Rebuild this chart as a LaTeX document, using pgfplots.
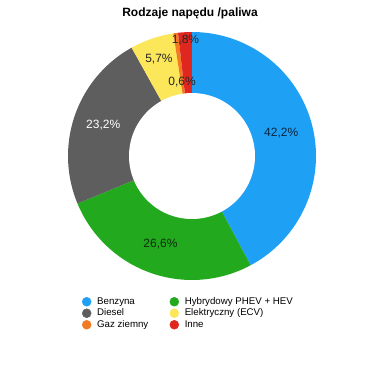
\documentclass[border=0pt]{standalone}
\usepackage{pgfplots}
\pgfplotsset{compat=1.18}
\usepackage{pgfplotstable}
\usepackage{fontspec}
\setmainfont{Liberation Sans}

\definecolor{cBlue}{HTML}{1EA0F5}
\definecolor{cGreen}{HTML}{23A91E}
\definecolor{cGrey}{HTML}{5E5E5E}
\definecolor{cYellow}{HTML}{FCE75A}
\definecolor{cOrange}{HTML}{F27B21}
\definecolor{cRed}{HTML}{E0271F}

\pgfplotstableread{
label value
Benzyna 42.2
Hybrydowy 26.6
Diesel 23.2
Elektryczny 5.7
Gaz 0.6
Inne 1.8
}\datatable

\pgfplotstablegetelem{0}{value}\of\datatable \let\vA\pgfplotsretval
\pgfplotstablegetelem{1}{value}\of\datatable \let\vB\pgfplotsretval
\pgfplotstablegetelem{2}{value}\of\datatable \let\vC\pgfplotsretval
\pgfplotstablegetelem{3}{value}\of\datatable \let\vD\pgfplotsretval
\pgfplotstablegetelem{4}{value}\of\datatable \let\vE\pgfplotsretval
\pgfplotstablegetelem{5}{value}\of\datatable \let\vF\pgfplotsretval
\pgfmathsetmacro{\tot}{\vA+\vB+\vC+\vD+\vE+\vF}
\pgfmathsetmacro{\aA}{0}
\pgfmathsetmacro{\aB}{\aA+\vA/\tot*360}
\pgfmathsetmacro{\aC}{\aB+\vB/\tot*360}
\pgfmathsetmacro{\aD}{\aC+\vC/\tot*360}
\pgfmathsetmacro{\aE}{\aD+\vD/\tot*360}
\pgfmathsetmacro{\aF}{\aE+\vE/\tot*360}
\pgfmathsetmacro{\aG}{\aF+\vF/\tot*360}

\def\cx{192}
\def\cy{156}
\def\ro{124}
\def\ri{63}

\begin{document}
\begin{tikzpicture}
\begin{axis}[
  scale only axis, width=378pt, height=378pt,
  xmin=0, xmax=378, ymin=0, ymax=378, y dir=reverse,
  hide axis, clip=false,
  legend columns=2,
  legend cell align=left,
  legend image code/.code={\fill[#1] (0pt,0pt) circle (4.5pt);},
  legend style={at={(axis cs:82,296)}, anchor=north west, draw=none, fill=none,
    inner sep=0pt, outer sep=0pt, row sep=0pt,
    font=\fontsize{9.7}{11.5}\selectfont,
    nodes={inner sep=1.25pt, text height=7pt, text depth=2pt},
    /tikz/every odd column/.append style={column sep=4.5pt},
    /tikz/every even column/.append style={column sep=20pt}},
]
\path (axis cs:0,0) rectangle (axis cs:378,378);
\addplot[fill=cBlue, draw=none, domain=\aA:\aB, samples=80, variable=\t, forget plot]
  ({\cx+\ro*sin(\t)},{\cy-\ro*cos(\t)}) -- (axis cs:\cx,\cy) -- cycle;
\addplot[fill=cGreen, draw=none, domain=\aB:\aC, samples=60, variable=\t, forget plot]
  ({\cx+\ro*sin(\t)},{\cy-\ro*cos(\t)}) -- (axis cs:\cx,\cy) -- cycle;
\addplot[fill=cGrey, draw=none, domain=\aC:\aD, samples=60, variable=\t, forget plot]
  ({\cx+\ro*sin(\t)},{\cy-\ro*cos(\t)}) -- (axis cs:\cx,\cy) -- cycle;
\addplot[fill=cYellow, draw=none, domain=\aD:\aE, samples=20, variable=\t, forget plot]
  ({\cx+\ro*sin(\t)},{\cy-\ro*cos(\t)}) -- (axis cs:\cx,\cy) -- cycle;
\addplot[fill=cOrange, draw=none, domain=\aE:\aF, samples=10, variable=\t, forget plot]
  ({\cx+\ro*sin(\t)},{\cy-\ro*cos(\t)}) -- (axis cs:\cx,\cy) -- cycle;
\addplot[fill=cRed, draw=none, domain=\aF:\aG, samples=10, variable=\t, forget plot]
  ({\cx+\ro*sin(\t)},{\cy-\ro*cos(\t)}) -- (axis cs:\cx,\cy) -- cycle;
\addplot[fill=white, draw=none, domain=0:360, samples=120, variable=\t, forget plot]
  ({\cx+\ri*sin(\t)},{\cy-\ri*cos(\t)}) -- cycle;

\addlegendimage{cBlue}\addlegendentry{Benzyna}
\addlegendimage{cGreen}\addlegendentry{Hybrydowy PHEV + HEV}
\addlegendimage{cGrey}\addlegendentry{Diesel}
\addlegendimage{cYellow}\addlegendentry{Elektryczny (ECV)}
\addlegendimage{cOrange}\addlegendentry{Gaz ziemny}
\addlegendimage{cRed}\addlegendentry{Inne}

\tikzset{lab/.style={font=\fontsize{12}{14}\selectfont, inner sep=0pt}}
\node[lab, text={rgb,255:red,12;green,38;blue,64}] at (axis cs:{\cx+92*sin((\aA+\aB)/2)},{\cy-92*cos((\aA+\aB)/2)}) {42,2\%};
\node[lab, text={rgb,255:red,10;green,45;blue,10}] at (axis cs:{\cx+94*sin((\aB+\aC)/2)},{\cy-94*cos((\aB+\aC)/2)}) {26,6\%};
\node[lab, text=white] at (axis cs:{\cx+94*sin((\aC+\aD)/2)},{\cy-94*cos((\aC+\aD)/2)}) {23,2\%};
\node[lab, text=black!85] at (axis cs:{\cx+102*sin((\aD+\aE)/2)},{\cy-102*cos((\aD+\aE)/2)}) {5,7\%};
\node[lab, text=black!85] at (axis cs:{\cx+75*sin((\aE+\aF)/2)},{\cy-75*cos((\aE+\aF)/2)}) {0,6\%};
\node[lab, text=black!85] at (axis cs:{\cx+116*sin((\aF+\aG)/2)},{\cy-116*cos((\aF+\aG)/2)}) {1,8\%};

\node[font=\fontsize{12}{14}\selectfont\bfseries] at (axis cs:190,13) {Rodzaje napędu /paliwa};
\end{axis}
\end{tikzpicture}
\end{document}
